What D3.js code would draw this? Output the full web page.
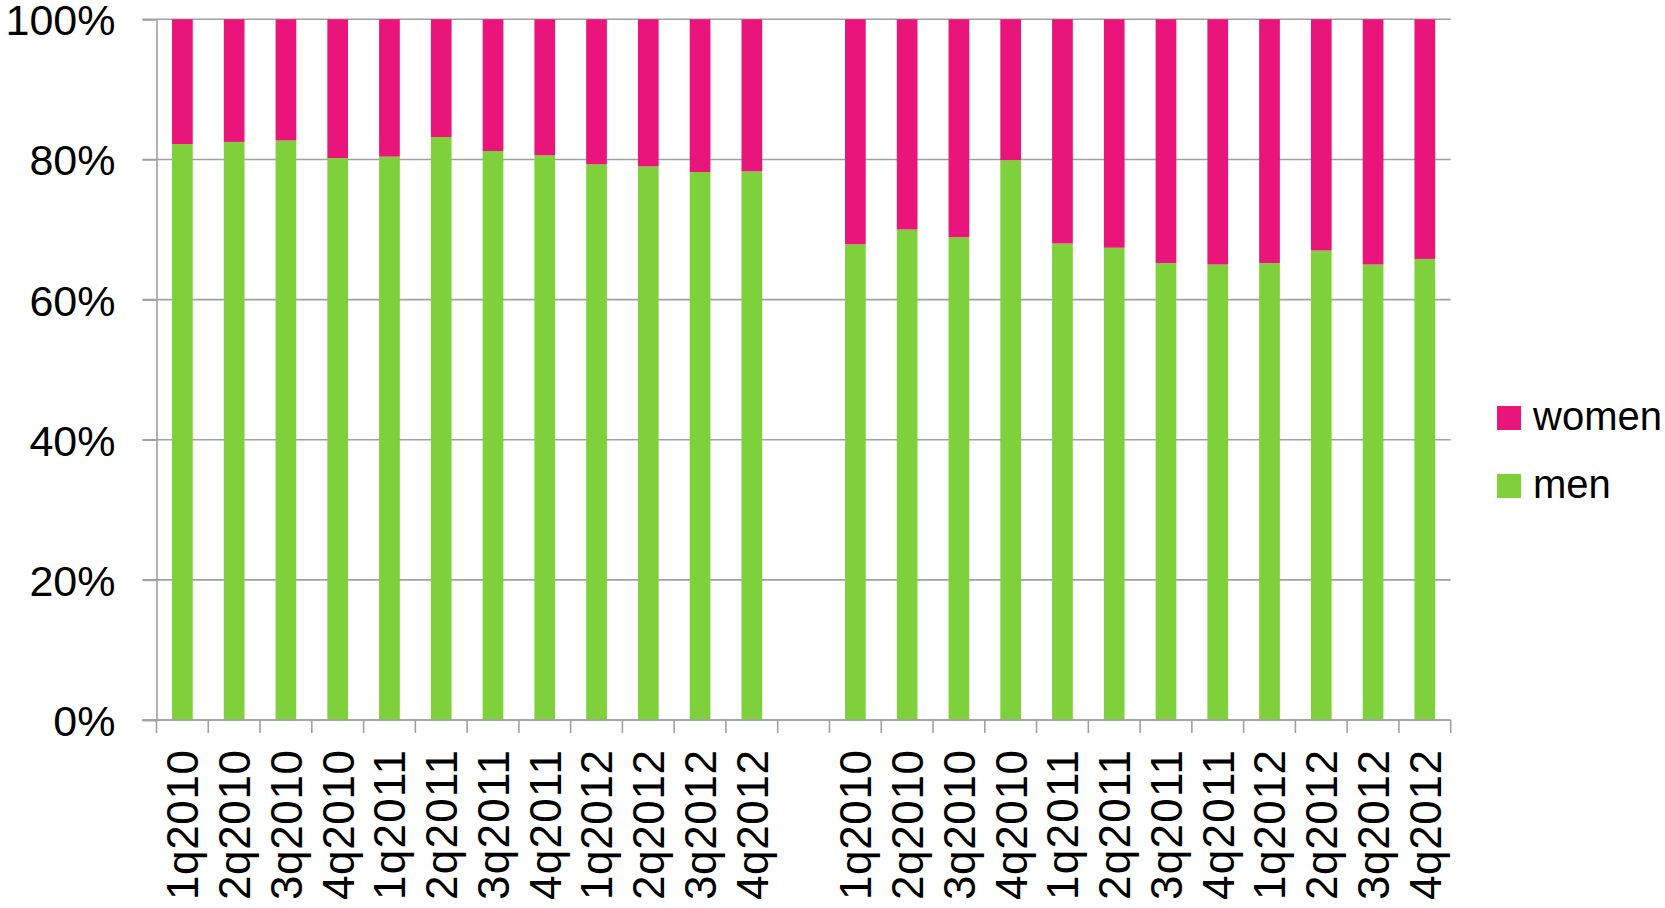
<!DOCTYPE html>
<html>
<head>
<meta charset="utf-8">
<script src="https://cdn.jsdelivr.net/npm/d3@7"></script>
<style>
    html, body { margin: 0; padding: 0; background: #fff; }
    #chart { width: 1665px; height: 908px; }
    text { font-family: "Liberation Sans", Arial, sans-serif; fill: #000; }
</style>
</head>
<body>
<div id="chart"></div>
<script>
// Quarter labels (same for both groups)
const quarters = ['1q2010', '2q2010', '3q2010', '4q2010',
                  '1q2011', '2q2011', '3q2011', '4q2011',
                  '1q2012', '2q2012', '3q2012', '4q2012'];

// Share of men (%) - left group and right group
const menLeft  = [82.2, 82.5, 82.7, 80.2, 80.4, 83.2, 81.2, 80.6, 79.3, 79.0, 78.2, 78.3];
const menRight = [67.9, 70.0, 68.9, 79.9, 68.0, 67.4, 65.2, 65.0, 65.2, 67.0, 65.0, 65.8];

const yTicks = [0, 20, 40, 60, 80, 100];

const seriesNames = ['women', 'men'];
const seriesColors = { men: '#7fd13b', women: '#ea157a' };

// Build rows: left group, one empty slot, right group
const rows = [];
quarters.forEach((q, i) => rows.push({ key: 'L' + i, label: q, men: menLeft[i] }));
rows.push({ key: 'gap', label: '', men: null });
quarters.forEach((q, i) => rows.push({ key: 'R' + i, label: q, men: menRight[i] }));

const width = 1665, height = 908;
const plot = { left: 156.5, right: 1450.7, top: 19.3, bottom: 720 };

const svg = d3.select('#chart').append('svg')
    .attr('width', width)
    .attr('height', height);

const x = d3.scaleBand()
    .domain(rows.map(d => d.key))
    .range([plot.left, plot.right])
    .padding(0);

const y = d3.scaleLinear()
    .domain([0, 100])
    .range([plot.bottom, plot.top]);

// Gridlines
svg.append('g')
    .selectAll('line')
    .data(yTicks)
    .join('line')
    .attr('x1', plot.left - 14)
    .attr('x2', plot.right)
    .attr('y1', d => y(d))
    .attr('y2', d => y(d))
    .attr('stroke', '#a0a0a0')
    .attr('stroke-width', 1.6);

// Stacked bars
const stack = d3.stack().keys(['men', 'women'])
    .value((d, k) => k === 'men' ? d.men : 100 - d.men);
const stacked = stack(rows.filter(d => d.men !== null));

const bw = x.bandwidth();
svg.append('g')
    .selectAll('g')
    .data(stacked)
    .join('g')
    .attr('fill', s => seriesColors[s.key])
    .selectAll('rect')
    .data(s => s)
    .join('rect')
    .attr('x', d => x(d.data.key) + bw * 0.3)
    .attr('width', bw * 0.4)
    .attr('y', d => y(d[1]))
    .attr('height', d => y(d[0]) - y(d[1]));

// Y axis
const yAxis = svg.append('g')
    .attr('transform', `translate(${plot.left},0)`)
    .call(d3.axisLeft(y).tickValues(yTicks).tickSize(14).tickFormat(d => d + '%'));
yAxis.select('.domain').attr('stroke', '#a0a0a0').attr('stroke-width', 1.6);
yAxis.selectAll('.tick line').attr('stroke', '#a0a0a0').attr('stroke-width', 1.6);
yAxis.selectAll('.tick text')
    .attr('x', -41)
    .attr('dy', '0.36em')
    .style('font-size', '43px')
    .style('font-family', '"Liberation Sans", Arial, sans-serif');

// X axis line with ticks at category boundaries
const xg = svg.append('g');
xg.append('line')
    .attr('x1', plot.left - 14).attr('x2', plot.right)
    .attr('y1', plot.bottom).attr('y2', plot.bottom)
    .attr('stroke', '#a0a0a0').attr('stroke-width', 1.6);
const bounds = rows.map(d => x(d.key)).concat([plot.right]);
xg.selectAll('line.tk')
    .data(bounds)
    .join('line')
    .attr('class', 'tk')
    .attr('x1', d => d).attr('x2', d => d)
    .attr('y1', plot.bottom).attr('y2', plot.bottom + 13)
    .attr('stroke', '#a0a0a0').attr('stroke-width', 1.6);

// Rotated category labels
xg.selectAll('text')
    .data(rows.filter(d => d.label))
    .join('text')
    .attr('transform', d => `translate(${x(d.key) + bw / 2},750) rotate(-90)`)
    .attr('text-anchor', 'end')
    .attr('dy', '0.36em')
    .attr('textLength', 150)
    .attr('lengthAdjust', 'spacing')
    .style('font-size', '44px')
    .text(d => d.label);

// Legend
const legend = svg.append('g')
    .selectAll('g')
    .data(seriesNames)
    .join('g')
    .attr('transform', (d, i) => `translate(1497,${406 + i * 68})`);
legend.append('rect')
    .attr('width', 24)
    .attr('height', 24)
    .attr('fill', d => seriesColors[d]);
legend.append('text')
    .attr('x', 36)
    .attr('y', 24)
    .style('font-size', '40px')
    .text(d => d);
</script>
</body>
</html>
